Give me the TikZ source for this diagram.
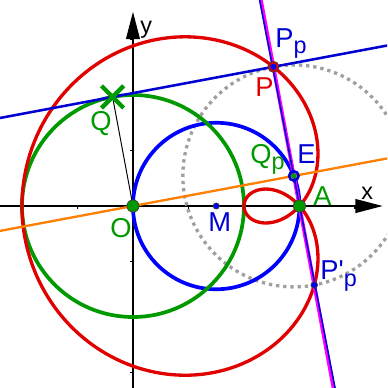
\documentclass[tikz,border=0pt]{standalone}
\usepackage{fontspec}
\setmainfont{Liberation Sans}
\usepackage{xcolor}
\usetikzlibrary{calc,arrows.meta}
\definecolor{cred}{RGB}{225,0,0}
\definecolor{cgreen}{RGB}{0,153,0}
\definecolor{cblue}{RGB}{0,0,255}
\definecolor{cdblue}{RGB}{0,0,210}
\definecolor{corange}{RGB}{255,127,0}
\definecolor{cmagenta}{RGB}{255,0,255}
\definecolor{cgrey}{RGB}{160,160,160}
\newcommand{\lowp}{\raisebox{-0.22em}{\fontsize{12}{12}\selectfont p}}

\begin{document}
\begin{tikzpicture}[
  lbl/.style={anchor=base west, inner sep=0pt, font=\fontsize{14}{16}\selectfont},
  axlbl/.style={inner sep=0pt, font=\fontsize{12}{14}\selectfont},
  dot/.style={draw=black!75, line width=0.4pt}]
\useasboundingbox (-2.396,-3.279) rectangle (4.577,3.712);
\clip (-2.396,-3.279) rectangle (4.577,3.712);
\def\ang{10.6}
\coordinate (O) at (0,0);
\coordinate (M) at (1.5,0);
\coordinate (A) at (3,0);
\coordinate (Q) at (\ang+90:2);
\coordinate (E) at ($(O)+(\ang:{3*cos(\ang)})$);
\coordinate (Pp) at ($(E)+(\ang+90:2)$);
\coordinate (Ppp) at ($(E)+(\ang-90:2)$);
\coordinate (xend) at (4.5,0);
\coordinate (yend) at (0,3.5);

% axes
\draw[line width=1pt, -{Triangle[length=14pt,width=7pt]}] (-2.5,0) -- (xend);
\draw[line width=1pt, -{Triangle[length=14pt,width=7pt]}] (0,-3.4) -- (yend);
\foreach \x in {-2,-1,1,2,3,4} \draw[line width=0.8pt] (\x,0) -- (\x,-0.06);
\foreach \y in {-3,-2,-1,1,2,3} \draw[line width=0.8pt] (0,\y) -- (-0.06,\y);
\node[axlbl] (xlbl) at (4.22,0.22) {x};
\node[axlbl] (ylbl) at (0.24,3.17) {y};

% circles
\draw[cgrey, line width=1.7pt, dash pattern=on 1.7pt off 2pt] (E) circle (2);
\draw[cblue, line width=1.9pt] (M) circle (1.5);
\draw[cgreen, line width=1.9pt] (O) circle (2);
\draw[cred, line width=1.7pt] plot[domain=0:360, samples=241, smooth, variable=\t]
  ({3*cos(\t)*cos(\t)-2*sin(\t)}, {3*cos(\t)*sin(\t)+2*cos(\t)});

% lines
\draw[corange, line width=1.2pt] ($(O)+(\ang:-3)$) -- ($(O)+(\ang:6)$);
\draw[cdblue, line width=1.3pt] ($(Q)+(\ang:-3)$) -- ($(Q)+(\ang:6)$);
\draw[cmagenta, line width=1.9pt] ($(E)+(\ang+90:4.5)$) -- ($(E)+(\ang-90:4.5)$);
\draw[cdblue, line width=0.8pt] ($(E)+(\ang+90.4:4.5)$) -- ($(E)+(\ang-89.6:4.5)$);
\draw[line width=0.5pt] (O) -- (Q);

% points
\draw[cgreen, line width=2.2pt] ($(Q)+(-0.2,-0.2)$) -- ($(Q)+(0.2,0.2)$)
  ($(Q)+(-0.2,0.2)$) -- ($(Q)+(0.2,-0.2)$);
\fill[cgreen, dot] (O) circle (0.11);
\fill[cgreen, dot] (A) circle (0.11);
\fill[cblue, dot] (M) circle (0.055);
\fill[cred, dot] (Pp) circle (0.1);
\fill[cblue] (Pp) circle (0.055);
\fill[cgreen] (E) circle (0.05);
\draw[cdblue, line width=1.3pt] (E) circle (0.085);
\fill[cblue, dot] (Ppp) circle (0.06);

% labels
\node[lbl, cdblue] (lPp) at (2.559,2.865) {P\lowp};
\node[lbl, cred] (lP) at (2.198,1.973) {P};
\node[lbl, cgreen] (lQ) at (-0.775,1.369) {Q};
\node[lbl, cgreen] (lO) at (-0.414,-0.559) {O};
\node[lbl, cdblue] (lM) at (1.351,-0.468) {M};
\node[lbl, cgreen] (lA) at (3.243,0.018) {A};
\node[lbl, cdblue] (lE) at (2.955,0.775) {E};
\node[lbl, cgreen] (lQp) at (2.108,0.775) {Q\lowp};
\node[lbl, cdblue] (lPpp) at (3.369,-1.333) {P\textquotesingle\lowp};
\end{tikzpicture}
\end{document}
